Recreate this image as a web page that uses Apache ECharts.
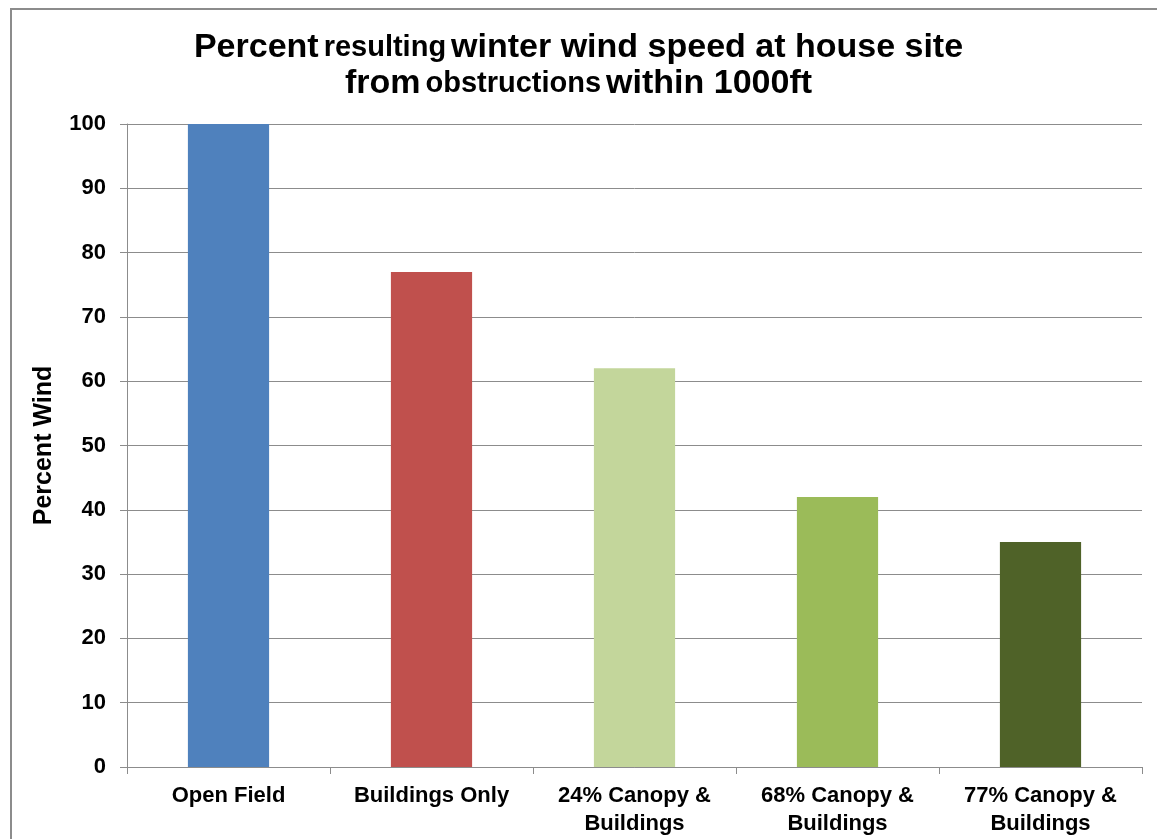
<!DOCTYPE html>
<html>
<head>
<meta charset="utf-8">
<script src="https://cdn.jsdelivr.net/npm/echarts@6/dist/echarts.min.js"></script>
<style>
  html, body { margin: 0; padding: 0; background: #fff; }
  #chart { width: 1157px; height: 839px; }
</style>
</head>
<body>
<div id="chart"></div>
<script>
// Category labels and wind percentages per obstruction scenario
const categories = ['Open Field', 'Buildings Only', '24% Canopy &\nBuildings', '68% Canopy &\nBuildings', '77% Canopy &\nBuildings'];
const percentWind = [100, 77, 62, 42, 35];
const barColors = ['#4F81BD', '#C0504D', '#C3D69B', '#9BBB59', '#4F6228'];
const yTicks = { min: 0, max: 100, interval: 10 };

const FONT = '"Liberation Sans", Arial, sans-serif';

const chart = echarts.init(document.getElementById('chart'), null, { renderer: 'canvas' });

chart.setOption({
  animation: false,
  backgroundColor: '#ffffff',
  textStyle: { fontFamily: FONT },
  title: {
    left: 'center',
    top: 25,
    text: '{b|Percent} {s|resulting} {b|winter wind speed at house site}\n{b|from} {s|obstructions} {b|within 1000ft}',
    textStyle: {
      rich: {
        b: { fontFamily: FONT, fontWeight: 'bold', fontSize: 34, color: '#000', lineHeight: 36 },
        s: { fontFamily: FONT, fontWeight: 'bold', fontSize: 29, color: '#000', lineHeight: 36 }
      }
    }
  },
  graphic: [{
    type: 'rect',
    shape: { x: 11, y: 9, width: 1160, height: 840 },
    style: { fill: 'none', stroke: '#8c8c8c', lineWidth: 2 },
    silent: true
  }],
  grid: { left: 127, right: 15, top: 124, bottom: 72, containLabel: false },
  xAxis: {
    type: 'category',
    data: categories,
    axisLine: { show: true, lineStyle: { color: '#8c8c8c', width: 1 } },
    axisTick: { show: true, length: 7, alignWithLabel: false, lineStyle: { color: '#8c8c8c' } },
    axisLabel: {
      color: '#000', fontWeight: 'bold', fontSize: 22, fontFamily: FONT,
      margin: 15, lineHeight: 28, interval: 0
    }
  },
  yAxis: {
    type: 'value',
    min: yTicks.min, max: yTicks.max, interval: yTicks.interval,
    name: 'Percent Wind',
    nameLocation: 'middle',
    nameGap: 70,
    nameRotate: 90,
    nameTextStyle: { color: '#000', fontWeight: 'bold', fontSize: 25, fontFamily: FONT },
    axisLine: { show: true, lineStyle: { color: '#8c8c8c', width: 1 } },
    axisTick: { show: true, length: 7, lineStyle: { color: '#8c8c8c' } },
    axisLabel: { color: '#000', fontWeight: 'bold', fontSize: 22, fontFamily: FONT, margin: 21 },
    splitLine: { show: true, lineStyle: { color: '#8c8c8c', width: 1 } }
  },
  series: [{
    type: 'bar',
    data: percentWind.map((v, i) => ({ value: v, itemStyle: { color: barColors[i] } })),
    barCategoryGap: '60%'
  }]
});
</script>
</body>
</html>
